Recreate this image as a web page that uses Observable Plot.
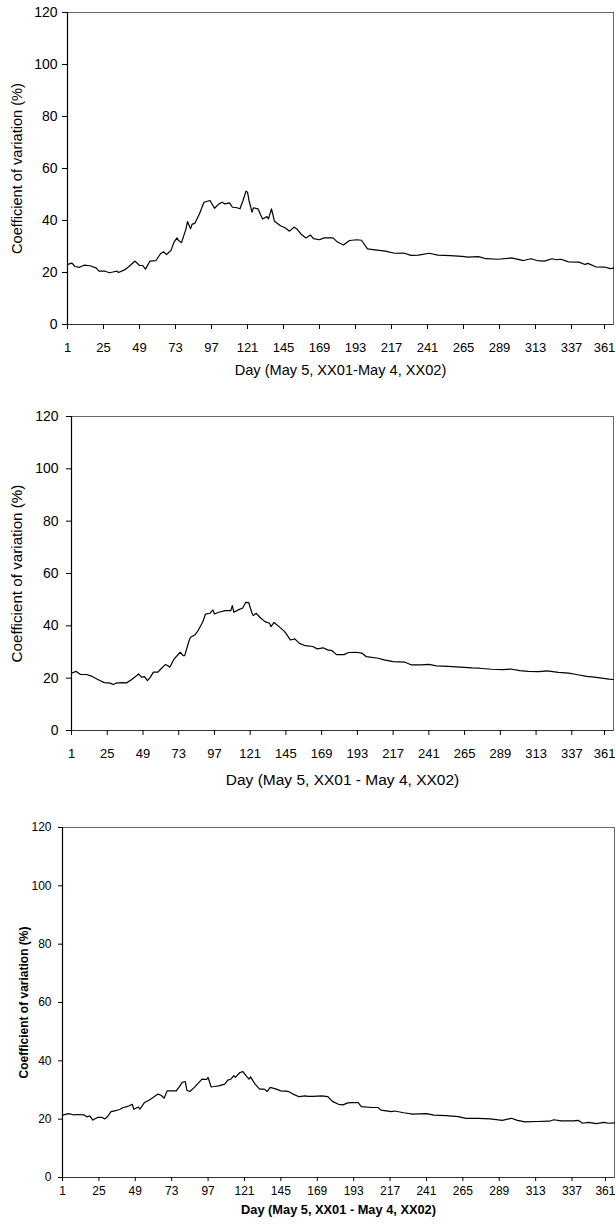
<!DOCTYPE html>
<html>
<head>
<meta charset="utf-8">
<script src="https://cdn.jsdelivr.net/npm/d3@7"></script>
<script src="https://cdn.jsdelivr.net/npm/@observablehq/plot@0.6"></script>
<style>
  html, body { margin: 0; padding: 0; background: #fff; }
  #chart { width: 616px; }
  #chart svg { display: block; }
</style>
</head>
<body>
<div id="chart"></div>
<script>
// ---- Data ----
const xTicks = [1, 25, 49, 73, 97, 121, 145, 169, 193, 217, 241, 265, 289, 313, 337];
const xTickLast = [361];
const yTicks = [0, 20, 40, 60, 80, 100, 120];
const yLabel = "Coefficient of variation (%)";
const xLabel1 = "Day (May 5, XX01-May 4, XX02)";
const xLabel2 = "Day (May 5, XX01 - May 4, XX02)";
const xLabel3 = "Day (May 5, XX01 - May 4, XX02)";

const days1 = [1,4,6,9,12,16,20,22,26,29,32,34,35,39,42,46,49,51,53,56,60,63,65,67,70,72,74,75,77,80,81,83,84,86,89,92,96,99,102,104,106,109,111,114,116,118,120,121,122,124,125,128,131,134,135,137,139,143,146,149,152,154,157,160,163,165,169,172,178,181,185,189,194,197,201,206,213,219,225,230,235,242,248,256,264,268,275,280,288,297,305,310,314,319,324,327,330,335,342,346,348,353,359,363,365];
const cv1 = [23.1,23.6,22.3,22.0,22.8,22.6,21.8,20.5,20.5,19.9,20.3,20.5,20.0,21.0,22.3,24.4,22.7,22.7,21.3,24.4,24.6,27.2,28.0,26.9,28.5,31.7,33.3,32.3,31.5,36.8,39.6,36.8,38.5,39.0,42.6,47.0,47.7,44.7,46.4,47.0,46.4,46.8,45.1,44.9,44.5,47.7,51.3,50.9,47.7,43.2,44.9,44.5,40.6,41.5,40.6,44.5,39.7,38.0,37.2,35.9,37.4,36.7,34.6,33.3,34.4,33.0,32.6,33.3,33.3,31.7,30.6,32.3,32.6,32.4,29.1,28.7,28.2,27.4,27.5,26.6,26.7,27.4,26.7,26.5,26.2,25.9,26.1,25.3,25.1,25.6,24.6,25.3,24.6,24.4,25.3,24.9,25.1,24.1,24.0,23.1,23.5,22.2,22.1,21.5,21.7];

const days2 = [1,4,7,11,14,18,20,23,27,29,31,35,38,41,44,46,48,50,52,54,56,59,61,64,66,67,70,74,76,77,80,81,84,86,89,91,94,96,97,100,104,108,109,110,113,116,118,120,122,123,125,128,131,134,135,137,141,144,145,148,151,154,158,163,166,170,173,176,179,184,187,192,196,199,207,211,217,225,229,236,241,246,254,262,270,275,283,291,296,302,308,315,320,323,328,335,341,347,352,357,362,365];
const cv2 = [21.9,22.6,21.4,21.4,20.9,19.7,19.1,18.3,18.1,17.6,18.1,18.3,18.2,19.3,20.6,21.6,20.4,20.6,19.1,20.4,22.3,22.3,23.5,25.2,24.7,24.2,27.4,29.9,28.6,28.6,34.4,35.6,36.6,38.2,41.3,44.5,44.8,46.1,44.5,45.2,45.8,45.8,47.7,45.2,46.1,46.8,49.0,48.9,45.2,43.9,44.8,43.0,41.6,41.0,39.7,41.3,39.4,37.9,37.1,34.6,35.0,33.3,32.4,32.1,31.2,31.6,30.8,30.5,29.0,29.0,29.8,29.9,29.6,28.2,27.6,27.0,26.3,26.1,25.1,25.1,25.3,24.7,24.5,24.2,23.9,23.8,23.4,23.3,23.5,22.9,22.6,22.5,22.8,22.6,22.2,21.9,21.3,20.7,20.4,20.0,19.6,19.5];

const days3 = [1,5,8,11,15,17,19,21,24,27,29,31,33,36,39,41,43,45,47,48,51,52,55,58,60,64,66,68,70,74,76,78,80,82,83,85,88,91,93,96,97,99,101,104,108,110,112,114,115,118,120,122,124,125,128,131,134,136,138,142,145,150,153,157,161,163,166,172,176,179,183,186,189,192,196,198,205,209,211,218,220,226,232,241,246,254,262,267,275,283,291,297,301,306,314,322,325,330,338,341,344,348,353,358,361,365];
const cv3 = [21.4,21.9,21.5,21.6,21.5,20.8,21.1,19.7,20.6,20.6,20.1,21.1,22.6,22.9,23.4,24.0,24.2,24.6,25.1,23.4,24.2,23.4,25.7,26.5,27.2,28.6,28.2,27.2,29.7,29.7,29.7,31.1,32.6,32.9,29.9,29.5,30.9,32.6,33.7,33.6,34.3,31.1,31.2,31.4,32.0,33.4,33.7,34.9,34.3,36.0,36.3,34.9,33.7,34.5,32.0,30.3,30.3,29.5,30.9,30.3,29.7,29.5,28.6,27.7,28.0,27.8,27.8,28.0,27.7,26.1,25.1,24.9,25.6,25.7,25.7,24.3,24.0,24.0,23.1,22.6,22.8,22.2,21.7,21.9,21.4,21.2,20.9,20.3,20.3,20.1,19.6,20.3,19.6,19.1,19.2,19.3,19.8,19.4,19.4,19.6,18.6,18.9,18.5,18.9,18.6,18.7];

function rows(days, cv) { return days.map((d, i) => ({day: d, cv: cv[i]})); }

function panel(o) {
  const data = rows(o.days, o.cv);
  const svg = Plot.plot({
    width: 616,
    height: o.height,
    marginTop: o.mt, marginBottom: o.mb, marginLeft: o.ml, marginRight: o.mr,
    style: {fontFamily: "'Liberation Sans', Arial, sans-serif", fontSize: o.yfs + "px", color: "#000", background: "#fff", overflow: "visible"},
    x: {domain: [1, 365]},
    y: {domain: [0, 120]},
    marks: [
      Plot.frame({stroke: "#666", strokeWidth: 1}),
      Plot.ruleX([1], {stroke: "#000", strokeWidth: 1.2}),
      Plot.ruleY([0], {stroke: "#333", strokeWidth: 1}),
      Plot.axisY({ticks: yTicks, tickSize: o.yts, tickPadding: o.ytp, stroke: "#000",
        label: yLabel, labelAnchor: "center", labelArrow: "none", labelOffset: o.ylo, fontSize: o.yfs}),
      Plot.axisX({ticks: xTicks, tickSize: o.xts, tickPadding: o.xtp, stroke: "#000",
        label: o.xlabel, labelAnchor: "center", labelArrow: "none", labelOffset: o.xlo, fontSize: o.xfs}),
      Plot.axisX({ticks: xTickLast, tickSize: o.xts, tickPadding: o.xtp, stroke: "#000",
        label: null, fontSize: o.xfs, dx: -3}),
      Plot.line(data, {x: "day", y: "cv", stroke: "#000", strokeWidth: 1.2})
    ]
  });
  svg.querySelectorAll('[aria-label="y-axis label"] text').forEach(t => {
    t.setAttribute("font-size", o.ylfs);
    if (o.bold) t.setAttribute("font-weight", "bold");
  });
  svg.querySelectorAll('[aria-label="x-axis label"] text').forEach(t => {
    t.setAttribute("font-size", o.xlfs);
    if (o.bold) t.setAttribute("font-weight", "bold");
  });
  return svg;
}

const chart = document.getElementById("chart");
chart.appendChild(panel({days: days1, cv: cv1, xlabel: xLabel1, height: 408, mt: 12, mb: 84, ml: 67, mr: 3,
  yfs: 14, xfs: 13, ylfs: 14.6, xlfs: 14.6, bold: false, yts: 5, ytp: 5, xts: 5, xtp: 13, ylo: 56, xlo: 50.5}));
chart.appendChild(panel({days: days2, cv: cv2, xlabel: xLabel2, height: 408, mt: 8, mb: 86, ml: 71, mr: 3,
  yfs: 14, xfs: 13, ylfs: 15.2, xlfs: 15.5, bold: false, yts: 5, ytp: 8, xts: 5, xtp: 13, ylo: 60, xlo: 54.5}));
chart.appendChild(panel({days: days3, cv: cv3, xlabel: xLabel3, height: 410, mt: 11, mb: 49, ml: 62, mr: 2,
  yfs: 12, xfs: 12, ylfs: 12, xlfs: 12.8, bold: true, yts: 4, ytp: 7, xts: 4, xtp: 5, ylo: 43, xlo: 36}));
</script>
</body>
</html>
